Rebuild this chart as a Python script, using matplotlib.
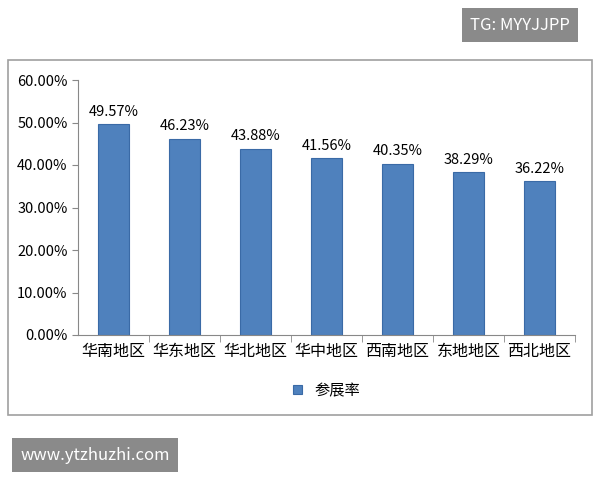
import matplotlib.pyplot as plt
from matplotlib.patches import Rectangle

plt.rcParams['font.family'] = ['Noto Sans CJK SC', 'DejaVu Sans']

regions = ["华南地区", "华东地区", "华北地区", "华中地区", "西南地区", "东地地区", "西北地区"]
rates = [49.57, 46.23, 43.88, 41.56, 40.35, 38.29, 36.22]
series_name = "参展率"

fig = plt.figure(figsize=(6, 4.8), dpi=100)

# outer chart frame
fig.patches.append(Rectangle((8/600, 1-415/480), 584/600, 355/480, transform=fig.transFigure,
                             fill=False, edgecolor="#a0a0a0", lw=1.2))

ax = fig.add_axes([78/600, 1-335/480, 497/600, 255/480])
bars = ax.bar(range(len(regions)), rates, width=0.45, color="#4f81bd", edgecolor="#3a6aa6", lw=0.8)
for b, v in zip(bars, rates):
    ax.text(b.get_x() + b.get_width()/2, v + 1.2, f"{v:.2f}%", ha="center", va="bottom", fontsize=10.5)

ax.set_ylim(0, 60)
ax.set_xlim(-0.5, len(regions) - 0.5)
ax.set_yticks(range(0, 61, 10))
ax.set_yticklabels([f"{t:.2f}%" for t in range(0, 61, 10)], fontsize=10.5)
ax.set_xticks(range(len(regions)))
ax.set_xticklabels(regions, fontsize=11.5)
for s in ["top", "right"]:
    ax.spines[s].set_visible(False)
ax.spines["left"].set_color("#888888")
ax.spines["bottom"].set_color("#888888")
ax.tick_params(axis="x", length=0, pad=6)
ax.tick_params(axis="y", length=4, color="#888888")
ax.set_xticks([i + 0.5 for i in range(len(regions))], minor=True)
ax.tick_params(axis="x", which="minor", length=5, color="#888888")

ax.legend([bars[0]], [series_name], loc="upper center", bbox_to_anchor=(0.5, -0.13),
          frameon=False, fontsize=11, handlelength=0.6, handleheight=0.6)

# watermarks
fig.text(520/600, 1-25/480, "TG: MYYJJPP", color="white", fontsize=12, ha="center", va="center",
         bbox=dict(boxstyle="square,pad=0.5", fc="#8a8a8a", ec="none"))
fig.text(95/600, 1-455/480, "www.ytzhuzhi.com", color="white", fontsize=12, ha="center", va="center",
         bbox=dict(boxstyle="square,pad=0.5", fc="#8a8a8a", ec="none"))

fig.savefig("out.png", dpi=100)
